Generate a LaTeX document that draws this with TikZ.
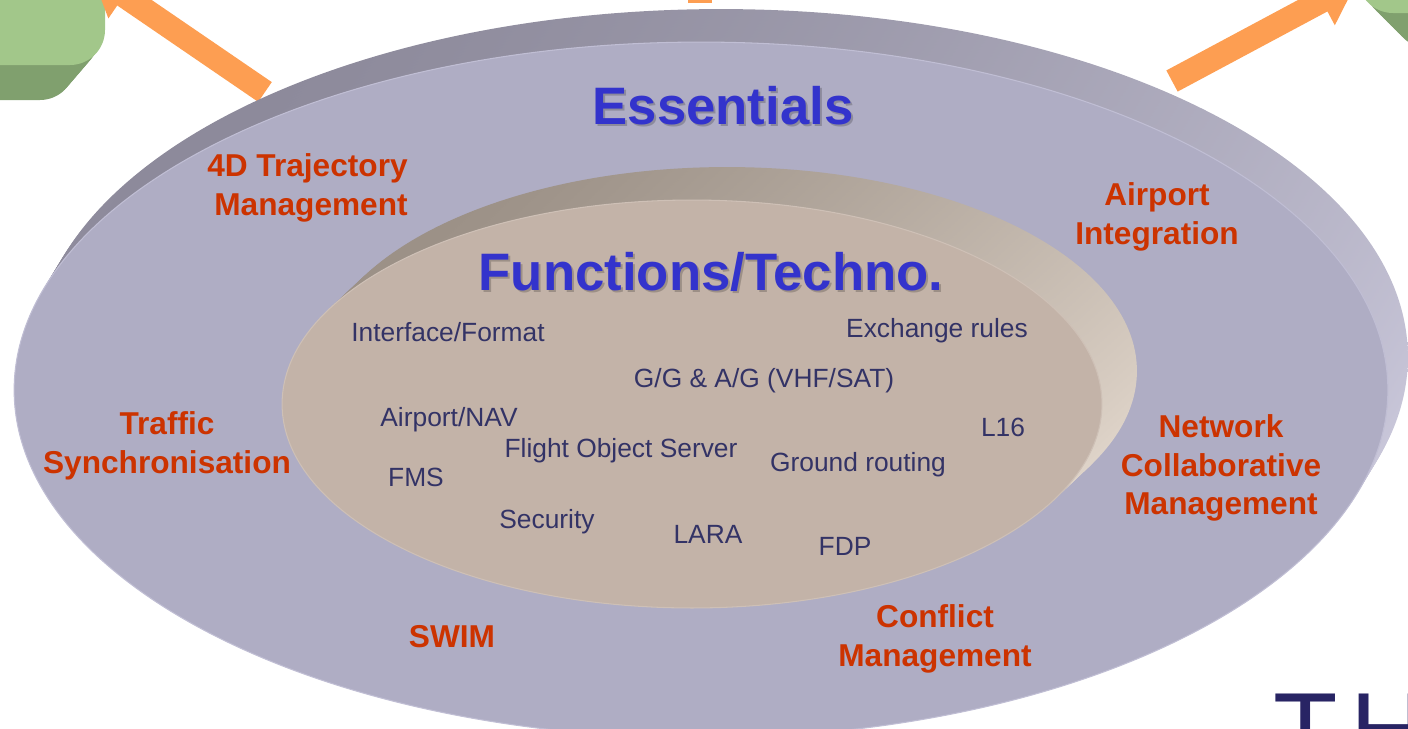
\documentclass[tikz,border=0pt]{standalone}
\usepackage{fontspec}
\setmainfont{Liberation Sans}
\newfontfamily\logofont[LetterSpace=12]{Liberation Sans}
\usetikzlibrary{arrows.meta}

\definecolor{outerface}{RGB}{175,173,196}
\definecolor{outerrim}{RGB}{192,190,212}
\definecolor{banddark}{RGB}{140,137,154}
\definecolor{bandlight}{RGB}{205,203,222}
\definecolor{innerface}{RGB}{195,179,168}
\definecolor{innerrim}{RGB}{206,192,182}
\definecolor{innerdark}{RGB}{155,144,134}
\definecolor{innerlight}{RGB}{225,214,203}
\definecolor{labelred}{RGB}{204,51,0}
\definecolor{titleblue}{RGB}{51,51,204}
\definecolor{itemblue}{RGB}{51,51,102}
\definecolor{arroworange}{RGB}{253,158,82}
\definecolor{greenface}{RGB}{162,199,138}
\definecolor{greenside}{RGB}{128,160,110}
\definecolor{logoblue}{RGB}{40,36,100}

\begin{document}
\begin{tikzpicture}[x = 0.02cm, y = -0.02cm,
                      title/.style = {font = \fontsize{30}{36}\selectfont\bfseries, text = titleblue,
                                      inner sep = 0pt, anchor = base},
                      titleshadow/.style = {title, text = black, text opacity = .2},
                      essential/.style = {font = \fontsize{18}{22}\selectfont\bfseries, text = labelred,
                                          align = center, inner sep = 0pt},
                      techno/.style = {font = \fontsize{15}{18}\selectfont, text = itemblue,
                                       inner sep = 0pt, anchor = base},
                      fatarrow/.style = {draw = arroworange, line width = .48cm,
                                         -{Triangle[length = .8cm, width = 1.05cm]}},
                      outerband/.style = {top color = banddark, bottom color = bandlight, shading angle = 30},
                      innerband/.style = {top color = innerdark, bottom color = innerlight, shading angle = 30}
                     ]
     \useasboundingbox (0,0) rectangle (1408,728);
     \clip (0,0) rectangle (1408,728);

     % green boxes in the corners
     \foreach \t in {1,0.9,...,0.1}
        \fill[greenside, rounded corners = .7cm, shift = {(-30*\t,35*\t)}] (-300,-300) rectangle (105,65);
     \fill[greenface, rounded corners = .7cm] (-300,-300) rectangle (105,65);

     \foreach \t in {1,0.9,...,0.1}
        \fill[greenside, rounded corners = .7cm, shift = {(35*\t,35*\t)}] (1358,-300) rectangle (1800,13);
     \fill[greenface, rounded corners = .7cm] (1358,-300) rectangle (1800,13);

     % arrows leaving the disc
     \coordinate (ltail) at (265,92);
     \coordinate (ltip) at (91,-27);
     \coordinate (rtail) at (1172,81);
     \coordinate (rtip) at (1357,-18);
     \coordinate (ctail) at (699.5,3);
     \coordinate (ctip) at (699.5,-100);
     \draw[fatarrow] (ltail) -- (ltip);
     \draw[fatarrow] (rtail) -- (rtip);
     \draw[fatarrow] (ctail) -- (ctip);

     % outer disc
     \foreach \t in {1,0.9,...,0.1}
        \shade[outerband, shift = {(20*\t,-33*\t)}] (701,390) ellipse [x radius = 13.74cm, y radius = 6.96cm];
     \filldraw[fill = outerface, draw = outerrim, line width = .6pt] (701,390) ellipse [x radius = 13.74cm, y radius = 6.96cm];

     % inner disc
     \foreach \t in {1,0.9,...,0.1}
        \shade[innerband, shift = {(35*\t,-33*\t)}] (692,404) ellipse [x radius = 8.2cm, y radius = 4.08cm];
     \filldraw[fill = innerface, draw = innerrim, line width = .6pt] (692,404) ellipse [x radius = 8.2cm, y radius = 4.08cm];

     \node[titleshadow] (essentialsshadow) at (725,126) {Essentials};
     \node[title] (essentials) at (723,124) {Essentials};
     \node[titleshadow] (functionsshadow) at (713,292) {Functions/Techno.};
     \node[title] (functions) at (711,290) {Functions/Techno.};

     \node[essential, align = right, anchor = east] (trajectory) at (408,188) {4D Trajectory\\Management};
     \node[essential] (airport) at (1157,217) {Airport\\Integration};
     \node[essential] (traffic) at (167,446) {Traffic\\Synchronisation};
     \node[essential] (network) at (1221,468) {Network\\Collaborative\\Management};
     \node[essential, anchor = base] (swim) at (452,647) {SWIM};
     \node[essential] (conflict) at (935,639) {Conflict\\Management};

     \node[techno] (interface) at (448,341) {Interface/Format};
     \node[techno] (exchange) at (937,337) {Exchange rules};
     \node[techno] (ggag) at (764,387) {G/G \& A/G (VHF/SAT)};
     \node[techno] (airportnav) at (449,426) {Airport/NAV};
     \node[techno] (lsixteen) at (1003,436) {L16};
     \node[techno] (fos) at (621,457) {Flight Object Server};
     \node[techno] (ground) at (858,471) {Ground routing};
     \node[techno] (fms) at (416,486) {FMS};
     \node[techno] (security) at (547,528) {Security};
     \node[techno] (lara) at (708,543) {LARA};
     \node[techno] (fdp) at (845,555) {FDP};

     \node[anchor = base west, inner sep = 0pt, font = \logofont\fontsize{60}{60}\selectfont,
           text = logoblue] (logo) at (1273,766) {TH};
\end{tikzpicture}
\end{document}
